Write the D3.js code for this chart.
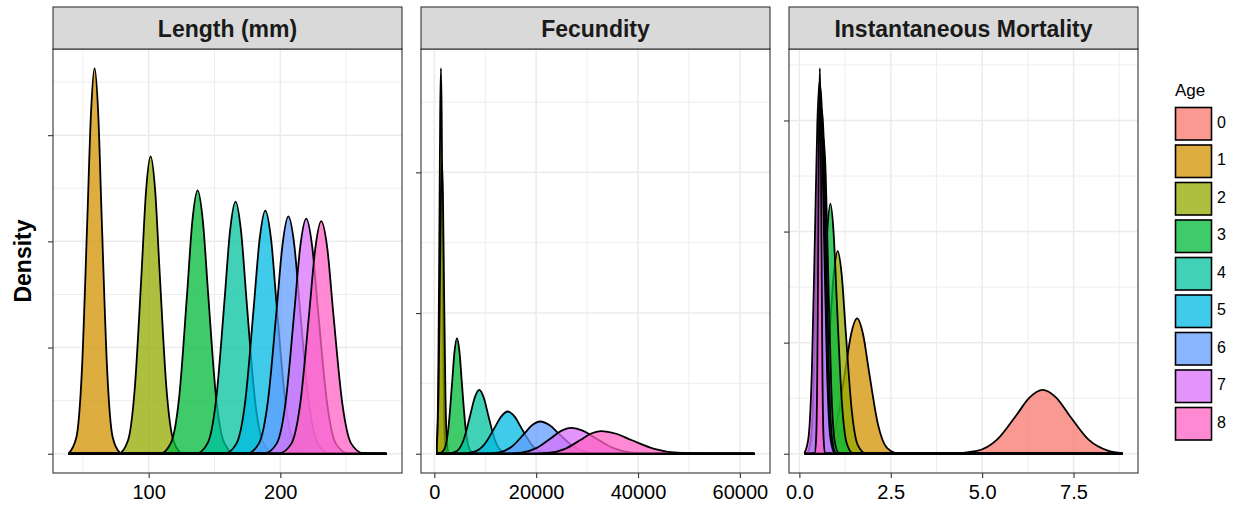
<!DOCTYPE html>
<html>
<head>
<meta charset="utf-8">
<script src="https://cdn.jsdelivr.net/npm/d3@7"></script>
<style>
  body { margin: 0; background: #fff; }
  svg { display: block; }
  text { font-family: "Liberation Sans", Arial, Helvetica, sans-serif; }
</style>
</head>
<body>
<svg id="chart" width="1238" height="508"></svg>
<script>
// ---- data -------------------------------------------------------------
const ages = ["0", "1", "2", "3", "4", "5", "6", "7", "8"];
const ageColors = ["#F8766D", "#D39200", "#93AA00", "#00BA38", "#00C19F",
                   "#00B9E3", "#619CFF", "#DB72FB", "#FF61C3"];
const panelTitles = ["Length (mm)", "Fecundity", "Instantaneous Mortality"];

const lengthXTicks = [100, 200];
const fecundityXTicks = [0, 20000, 40000, 60000];
const mortalityXTicks = [0, 2.5, 5, 7.5];
const lengthYTicks = [0, 0.02, 0.04, 0.06];
const fecundityYTicks = [0, 0.0005, 0.001];
const mortalityYTicks = [0, 1, 2, 3];

// density curves: x = variable value, y = density
const lengthDensity = [
  { age: 1, x: [39.4, 45.2, 49.3, 53.4, 56.2, 58.9, 61.7, 64.4, 68.5, 72.6, 78.2, 80.0],
            y: [0.0001, 0.0032, 0.0157, 0.0440, 0.0641, 0.0726, 0.0641, 0.0440, 0.0157, 0.0032, 0.0002, 0] },
  { age: 2, x: [77.4, 84.3, 89.4, 94.6, 98.0, 101.5, 105.0, 108.4, 113.6, 118.8, 125.7],
            y: [0.0001, 0.0025, 0.0121, 0.0340, 0.0494, 0.0560, 0.0494, 0.0340, 0.0121, 0.0025, 0.0001] },
  { age: 3, x: [109.2, 117.2, 123.2, 129.2, 133.2, 137.2, 141.2, 145.2, 151.2, 157.2, 165.2],
            y: [0.0001, 0.0022, 0.0107, 0.0301, 0.0438, 0.0496, 0.0438, 0.0301, 0.0107, 0.0022, 0.0001] },
  { age: 4, x: [136.6, 145.0, 151.3, 157.6, 161.8, 166.0, 170.2, 174.4, 180.7, 187.0, 195.4],
            y: [0.0001, 0.0021, 0.0103, 0.0288, 0.0419, 0.0475, 0.0419, 0.0288, 0.0103, 0.0021, 0.0001] },
  { age: 5, x: [158.2, 166.9, 173.4, 179.9, 184.3, 188.6, 193.0, 197.3, 203.8, 210.4, 219.0],
            y: [0.0001, 0.0020, 0.0099, 0.0278, 0.0404, 0.0458, 0.0404, 0.0278, 0.0099, 0.0020, 0.0001] },
  { age: 6, x: [175.0, 183.9, 190.5, 197.2, 201.7, 206.1, 210.6, 215.0, 221.7, 228.4, 237.3],
            y: [0.0001, 0.0020, 0.0097, 0.0271, 0.0394, 0.0447, 0.0394, 0.0271, 0.0097, 0.0020, 0.0001] },
  { age: 7, x: [188.2, 197.2, 204.0, 210.7, 215.2, 219.7, 224.2, 228.7, 235.5, 242.2, 251.2],
            y: [0.0001, 0.0019, 0.0096, 0.0269, 0.0391, 0.0443, 0.0391, 0.0269, 0.0096, 0.0019, 0.0001] },
  { age: 8, x: [199.3, 208.4, 215.2, 222.0, 226.6, 231.1, 235.7, 240.2, 247.1, 253.9, 263.0, 280.4],
            y: [0.0001, 0.0019, 0.0095, 0.0266, 0.0387, 0.0438, 0.0387, 0.0266, 0.0095, 0.0019, 0.0001, 0] }
];

const fecundityDensity = [
  { age: 1, x: [520, 575, 792, 1010, 1155, 1300, 1445, 1590, 1808, 2025, 2315],
            y: [0.00004, 0.00006, 0.000296, 0.000831, 0.00121, 0.00137, 0.00121, 0.000831, 0.000296, 0.00006, 0.000003] },
  { age: 2, x: [500, 542, 830, 1117, 1308, 1500, 1692, 1883, 2170, 2458, 2840],
            y: [0.000034, 0.000046, 0.000225, 0.000631, 0.000918, 0.00104, 0.000918, 0.000631, 0.000225, 0.000046, 0.000002] },
  { age: 3, x: [1055, 2025, 2753, 3480, 3965, 4450, 4935, 5420, 6148, 6875, 7845],
            y: [0.000001, 0.000018, 0.000089, 0.000249, 0.000363, 0.000411, 0.000363, 0.000249, 0.000089, 0.000018, 0.000001] },
  { age: 4, x: [2670, 4428, 5745, 7063, 7942, 8820, 9699, 10577, 11895, 13213, 14970],
            y: [0.0000005, 0.00001, 0.000049, 0.000138, 0.0002, 0.000227, 0.0002, 0.000138, 0.000049, 0.00001, 0.0000005] },
  { age: 5, x: [5140, 7800, 9795, 11790, 13120, 14450, 15780, 17110, 19105, 21100, 23760],
            y: [0.0000003, 0.0000066, 0.0000324, 0.000091, 0.000132, 0.00015, 0.000132, 0.000091, 0.0000324, 0.0000066, 0.0000003] },
  { age: 6, x: [9580, 12780, 15180, 17580, 19180, 20780, 22665, 24550, 27378, 30205, 33975],
            y: [0.0000003, 0.000005, 0.0000248, 0.0000694, 0.000101, 0.0001145, 0.000101, 0.0000694, 0.0000248, 0.000005, 0.0000003] },
  { age: 7, x: [13210, 17110, 20035, 22960, 24910, 26860, 29235, 31610, 35173, 38735, 43485],
            y: [0.0000002, 0.000004, 0.00002, 0.0000559, 0.0000814, 0.0000922, 0.0000814, 0.0000559, 0.00002, 0.000004, 0.0000002] },
  { age: 8, x: [18680, 22680, 25680, 28680, 30680, 32680, 35680, 38680, 43180, 47680, 53680, 62800],
            y: [0.0000002, 0.0000035, 0.0000174, 0.0000487, 0.000071, 0.0000805, 0.000071, 0.0000487, 0.0000174, 0.0000035, 0.0000002, 0] }
];

const mortalityDensity = [
  { age: 0, x: [4.1, 4.86, 5.4, 5.94, 6.3, 6.655, 7.02, 7.38, 7.92, 8.46, 8.83],
            y: [0.0012, 0.0252, 0.124, 0.349, 0.507, 0.575, 0.507, 0.349, 0.124, 0.0252, 0.005] },
  { age: 1, x: [0.43, 0.76, 1.006, 1.251, 1.415, 1.578, 1.742, 1.905, 2.15, 2.396, 2.72],
            y: [0.0027, 0.0535, 0.264, 0.739, 1.076, 1.219, 1.076, 0.739, 0.264, 0.0535, 0.0027] },
  { age: 2, x: [0.28, 0.50, 0.665, 0.829, 0.939, 1.048, 1.158, 1.267, 1.431, 1.596, 1.815],
            y: [0.004, 0.080, 0.395, 1.106, 1.610, 1.824, 1.610, 1.106, 0.395, 0.080, 0.004] },
  { age: 3, x: [0.229, 0.406, 0.538, 0.671, 0.760, 0.848, 0.937, 1.025, 1.158, 1.291, 1.468],
            y: [0.005, 0.099, 0.487, 1.366, 1.987, 2.252, 1.987, 1.366, 0.487, 0.099, 0.005] },
  { age: 4, x: [0.24, 0.36, 0.45, 0.54, 0.60, 0.66, 0.72, 0.78, 0.87, 0.96, 1.08],
            y: [0.0062, 0.125, 0.616, 1.728, 2.515, 2.85, 2.515, 1.728, 0.616, 0.125, 0.0062] },
  { age: 5, x: [0.235, 0.345, 0.428, 0.51, 0.565, 0.62, 0.675, 0.73, 0.813, 0.895, 1.005],
            y: [0.0068, 0.136, 0.671, 1.88, 2.736, 3.1, 2.736, 1.88, 0.671, 0.136, 0.0068] },
  { age: 6, x: [0.21, 0.318, 0.396, 0.475, 0.528, 0.58, 0.633, 0.685, 0.764, 0.843, 0.948],
            y: [0.0073, 0.145, 0.714, 2.0, 2.912, 3.3, 2.912, 2.0, 0.714, 0.145, 0.0073] },
  { age: 7, x: [0.15, 0.25, 0.34, 0.43, 0.49, 0.55, 0.61, 0.67, 0.76, 0.85, 0.97],
            y: [0.014, 0.147, 0.725, 2.032, 2.956, 3.35, 2.956, 2.032, 0.725, 0.147, 0.0074] },
  { age: 8, x: [0.42, 0.46, 0.49, 0.52, 0.54, 0.56, 0.58, 0.60, 0.63, 0.66, 0.70],
            y: [0.0076, 0.152, 0.751, 2.105, 3.062, 3.47, 3.062, 2.105, 0.751, 0.152, 0.0076] }
];

// ---- layout -----------------------------------------------------------
const svg = d3.select("#chart");
const panelLeft = [53, 421, 789];
const panelW = 349;
const stripTop = 7, panelTop = 49, panelBottom = 473;
const fillAlpha = 0.75;
const frameColor = "#333333";
const gridColor = "#EBEBEB";

const color = d3.scaleOrdinal().domain(ages).range(ageColors);

function minorValues(ticks, domain) {
  const step = ticks[1] - ticks[0];
  const [lo, hi] = domain;
  const out = [];
  for (let v = ticks[0] - step / 2; v <= hi + 1e-12; v += step) {
    if (v >= lo) out.push(v);
  }
  return out;
}

function drawPanel(i, title, curves, xTicks, yTicks, xFormat) {
  const x0 = panelLeft[i], x1 = x0 + panelW;
  const [dmin, dmax] = d3.extent(curves.flatMap(c => c.x));
  const span = dmax - dmin;
  const ymax = d3.max(curves.flatMap(c => c.y));

  const x = d3.scaleLinear().domain([dmin - 0.05 * span, dmax + 0.05 * span]).range([x0, x1]);
  const y = d3.scaleLinear().domain([-0.05 * ymax, 1.05 * ymax]).range([panelBottom, panelTop]);

  const g = svg.append("g").attr("class", "panel");

  g.append("rect")
    .attr("x", x0).attr("y", panelTop)
    .attr("width", panelW).attr("height", panelBottom - panelTop)
    .attr("fill", "#fff");

  // grid: minor first, then major
  const grid = g.append("g");
  grid.selectAll(".vminor").data(minorValues(xTicks, x.domain())).join("line")
    .attr("x1", d => x(d)).attr("x2", d => x(d))
    .attr("y1", panelTop).attr("y2", panelBottom)
    .attr("stroke", gridColor).attr("stroke-width", 0.9);
  grid.selectAll(".hminor").data(minorValues(yTicks, y.domain())).join("line")
    .attr("x1", x0).attr("x2", x1)
    .attr("y1", d => y(d)).attr("y2", d => y(d))
    .attr("stroke", gridColor).attr("stroke-width", 0.9);
  grid.selectAll(".vmajor").data(xTicks).join("line")
    .attr("x1", d => x(d)).attr("x2", d => x(d))
    .attr("y1", panelTop).attr("y2", panelBottom)
    .attr("stroke", gridColor).attr("stroke-width", 1.5);
  grid.selectAll(".hmajor").data(yTicks).join("line")
    .attr("x1", x0).attr("x2", x1)
    .attr("y1", d => y(d)).attr("y2", d => y(d))
    .attr("stroke", gridColor).attr("stroke-width", 1.5);

  // density areas; every group's estimate spans the panel's full data range
  const clipId = "clip" + i;
  svg.append("clipPath").attr("id", clipId).append("rect")
    .attr("x", x0).attr("y", panelTop)
    .attr("width", panelW).attr("height", panelBottom - panelTop);

  const area = d3.area()
    .x(d => x(d[0]))
    .y0(y(0))
    .y1(d => y(d[1]))
    .curve(d3.curveMonotoneX);

  const toPoints = c => {
    const pts = c.x.map((v, k) => [v, c.y[k]]);
    if (pts[0][0] > dmin) pts.unshift([dmin, 0]);
    if (pts[pts.length - 1][0] < dmax) pts.push([dmax, 0]);
    return pts;
  };

  g.append("g").attr("clip-path", `url(#${clipId})`)
    .selectAll("path").data(curves).join("path")
    .attr("d", c => area(toPoints(c)))
    .attr("fill", c => color(String(c.age)))
    .attr("fill-opacity", fillAlpha)
    .attr("stroke", "#000")
    .attr("stroke-width", 1.8)
    .attr("stroke-linejoin", "round");

  // border
  g.append("rect")
    .attr("x", x0).attr("y", panelTop)
    .attr("width", panelW).attr("height", panelBottom - panelTop)
    .attr("fill", "none").attr("stroke", frameColor).attr("stroke-width", 1.1);

  // strip
  g.append("rect")
    .attr("x", x0).attr("y", stripTop)
    .attr("width", panelW).attr("height", panelTop - stripTop)
    .attr("fill", "#D9D9D9").attr("stroke", frameColor).attr("stroke-width", 1.1);
  g.append("text")
    .attr("x", (x0 + x1) / 2).attr("y", 37)
    .attr("text-anchor", "middle")
    .attr("font-size", 23).attr("font-weight", "bold")
    .attr("fill", "#1A1A1A")
    .text(title);

  // axes
  const ya = g.append("g").attr("transform", `translate(${x0},0)`)
    .call(d3.axisLeft(y).tickValues(yTicks).tickFormat("").tickSize(5).tickSizeOuter(0));
  ya.select(".domain").remove();
  ya.selectAll(".tick line").attr("stroke", frameColor).attr("stroke-width", 1.1);

  const xa = g.append("g").attr("transform", `translate(0,${panelBottom})`)
    .call(d3.axisBottom(x).tickValues(xTicks).tickFormat(xFormat).tickSize(5).tickSizeOuter(0).tickPadding(7));
  xa.select(".domain").remove();
  xa.selectAll(".tick line").attr("stroke", frameColor).attr("stroke-width", 1.1);
  xa.selectAll(".tick text")
    .attr("font-size", 20)
    .attr("font-family", "\"Liberation Sans\", Arial, sans-serif")
    .attr("fill", "#000");
}

drawPanel(0, panelTitles[0], lengthDensity, lengthXTicks, lengthYTicks, d3.format("d"));
drawPanel(1, panelTitles[1], fecundityDensity, fecundityXTicks, fecundityYTicks, d3.format("d"));
drawPanel(2, panelTitles[2], mortalityDensity, mortalityXTicks, mortalityYTicks, d3.format(".1f"));

// y-axis title
svg.append("text")
  .attr("transform", `translate(31,261) rotate(-90)`)
  .attr("text-anchor", "middle")
  .attr("font-size", 23).attr("font-weight", "bold")
  .attr("fill", "#000")
  .text("Density");

// legend
const legend = svg.append("g");
legend.append("text")
  .attr("x", 1175).attr("y", 96)
  .attr("font-size", 17).attr("fill", "#000")
  .text("Age");

const keyTop = 107.5, keyStep = 37.5;
const items = legend.selectAll(".key").data(ages).join("g")
  .attr("transform", (d, k) => `translate(1175.5,${keyTop + k * keyStep})`);
items.append("rect")
  .attr("width", 36).attr("height", 32.5)
  .attr("fill", d => color(d)).attr("fill-opacity", fillAlpha)
  .attr("stroke", "#000").attr("stroke-width", 1.6);
items.append("text")
  .attr("x", 41.5).attr("y", 20)
  .attr("font-size", 16).attr("fill", "#000")
  .text(d => d);
</script>
</body>
</html>
